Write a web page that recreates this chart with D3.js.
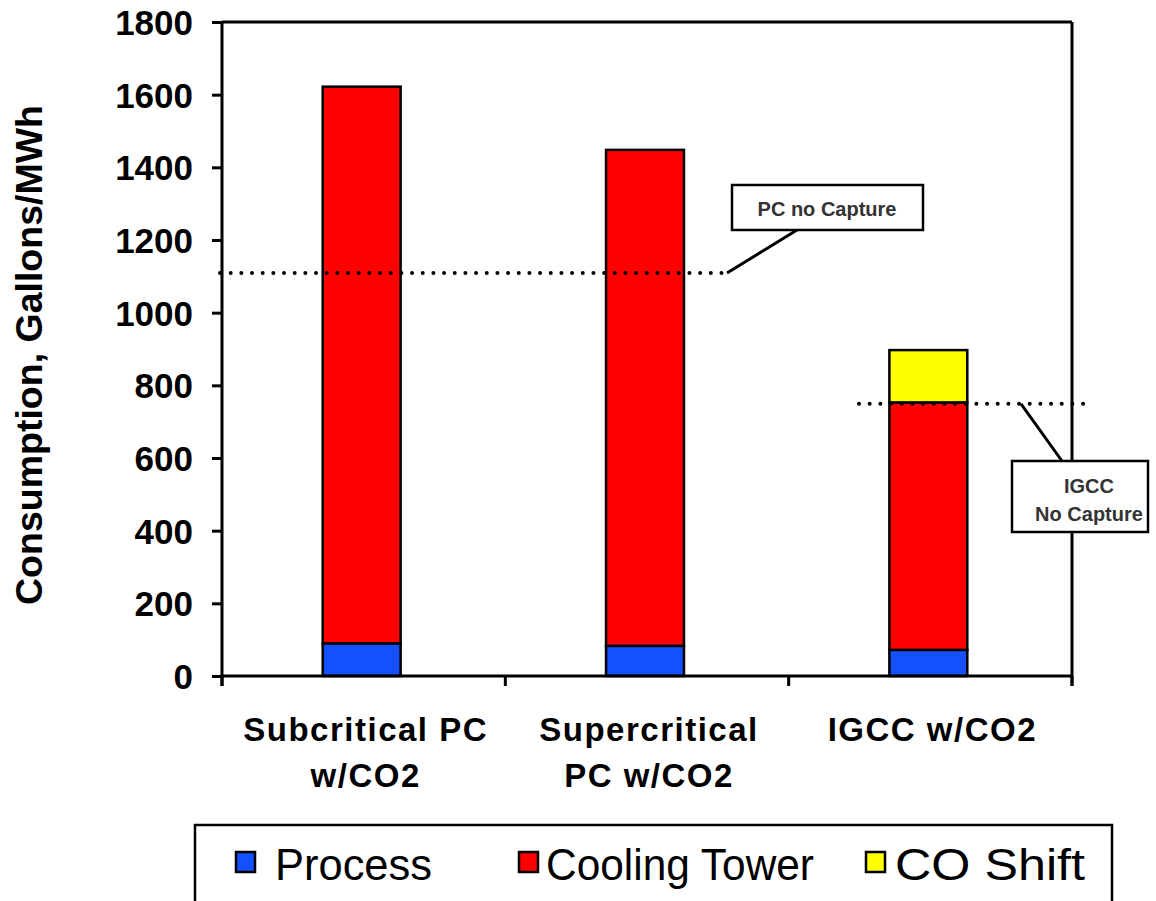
<!DOCTYPE html>
<html><head><meta charset="utf-8">
<script src="https://cdn.jsdelivr.net/npm/d3@7"></script>
<style>body{margin:0;background:#fff}svg{display:block}text{font-family:"Liberation Sans",Arial,sans-serif}</style>
</head><body><svg id="c" width="1156" height="901"></svg>
<script>
const categories = [["Subcritical PC","w/CO2"],["Supercritical","PC w/CO2"],["IGCC w/CO2"]];
const catKeys = ["sub","super","igcc"];
const seriesNames = ["Process","Cooling Tower","CO Shift"];
const seriesColors = ["#1450ff","#ff0000","#ffff00"];
const processVals = [90, 83, 72];
const coolingVals = [1532, 1365, 681];
const coShiftVals = [0, 0, 144];
const yTicks = [0,200,400,600,800,1000,1200,1400,1600,1800];
const pcNoCapture = 1109;
const igccNoCapture = 749;

const svg = d3.select("#c");
const L=222, R=1072, T=22, B=676;
const y = d3.scaleLinear().domain([0,1800]).range([B,T]);
const x = d3.scaleBand().domain(catKeys).range([L,R]).padding(0);
const barW = x.bandwidth()*0.275;

// plot frame (top & right)
svg.append("line").attr("x1",L).attr("x2",R).attr("y1",T).attr("y2",T).attr("stroke","#000").attr("stroke-width",3);
svg.append("line").attr("x1",R).attr("x2",R).attr("y1",T).attr("y2",B+10).attr("stroke","#000").attr("stroke-width",3);

// bars
const stackData = catKeys.map((k,i)=>({key:k, Process:processVals[i], "Cooling Tower":coolingVals[i], "CO Shift":coShiftVals[i]}));
const stack = d3.stack().keys(seriesNames)(stackData);
stack.forEach((s,si)=>{
  svg.append("g").selectAll("rect").data(s.filter(d=>d[1]-d[0]>0)).join("rect")
    .attr("x",d=>x(d.data.key)+x.bandwidth()/2-barW/2-2)
    .attr("width",barW)
    .attr("y",d=>y(d[1]))
    .attr("height",d=>y(d[0])-y(d[1]))
    .attr("fill",seriesColors[si]).attr("stroke","#000").attr("stroke-width",2.5);
});

// y axis
const ya = svg.append("g").attr("transform",`translate(${L},0)`)
  .call(d3.axisLeft(y).tickValues(yTicks).tickSize(10).tickPadding(19).tickFormat(d3.format("d")));
ya.select(".domain").attr("d",`M0,${T}V${B+10}`).attr("stroke-width",3);
ya.selectAll(".tick line").attr("stroke-width",3);
ya.selectAll(".tick text").attr("font-size",35).attr("font-weight","bold").attr("fill","#000").attr("dy","0.36em");

// x axis
svg.append("line").attr("x1",L).attr("x2",R).attr("y1",B).attr("y2",B).attr("stroke","#000").attr("stroke-width",3);
const bounds = catKeys.map(k=>x(k)).concat([x(catKeys[2])+x.bandwidth()]);
svg.append("g").selectAll("line").data(bounds).join("line")
  .attr("x1",d=>d).attr("x2",d=>d).attr("y1",B).attr("y2",B+10).attr("stroke","#000").attr("stroke-width",3);
catKeys.forEach((k,i)=>{
  const cx = x(k)+x.bandwidth()/2+2;
  const t = svg.append("text").attr("x",cx).attr("y",741)
    .attr("text-anchor","middle").attr("font-size",33).attr("font-weight","bold").attr("letter-spacing",1.5);
  categories[i].forEach((ln,j)=>t.append("tspan").attr("x",cx).attr("dy",j?46:0).text(ln));
});

// y title
svg.append("text").attr("transform","translate(42,355) rotate(-90)").attr("text-anchor","middle")
  .attr("font-size",36).attr("font-weight","bold").attr("textLength",500).attr("lengthAdjust","spacingAndGlyphs").text("Consumption, Gallons/MWh");

// reference lines
const dot = (x1,x2,yy)=>svg.append("line").attr("x1",x1).attr("x2",x2).attr("y1",y(yy)).attr("y2",y(yy))
  .attr("stroke","#000").attr("stroke-width",4).attr("stroke-linecap","round").attr("stroke-dasharray","0 10.67");
dot(220,726,pcNoCapture);
dot(859,1085,igccNoCapture);

// PC callout
svg.append("line").attr("x1",727).attr("y1",y(pcNoCapture)).attr("x2",797).attr("y2",230).attr("stroke","#000").attr("stroke-width",3);
svg.append("rect").attr("x",732).attr("y",185).attr("width",191).attr("height",45).attr("fill","#fff").attr("stroke","#000").attr("stroke-width",2.5);
svg.append("text").attr("x",827).attr("y",216).attr("text-anchor","middle").attr("font-size",20).attr("font-weight","bold").attr("fill","#333").text("PC no Capture");

// IGCC callout
svg.append("line").attr("x1",1021).attr("y1",y(igccNoCapture)).attr("x2",1062).attr("y2",461).attr("stroke","#000").attr("stroke-width",3);
svg.append("rect").attr("x",1012).attr("y",461).attr("width",136).attr("height",71).attr("fill","#fff").attr("stroke","#000").attr("stroke-width",2.5);
svg.append("text").attr("x",1089).attr("y",493).attr("text-anchor","middle").attr("font-size",20).attr("font-weight","bold").attr("fill","#333").text("IGCC");
svg.append("text").attr("x",1089).attr("y",521).attr("text-anchor","middle").attr("font-size",20).attr("font-weight","bold").attr("fill","#333").text("No Capture");

// legend
svg.append("rect").attr("x",195).attr("y",825).attr("width",917).attr("height",90).attr("fill","#fff").attr("stroke","#000").attr("stroke-width",2.5);
const legSq = [236, 519, 866];
const legTx = [275, 546, 895];
const legTextW = [157, 268, 190];
seriesNames.forEach((n,i)=>{
  svg.append("rect").attr("x",legSq[i]).attr("y",852).attr("width",19).attr("height",20).attr("fill",seriesColors[i]).attr("stroke","#000").attr("stroke-width",2.5);
  svg.append("text").attr("x",legTx[i]).attr("y",880).attr("font-size",45)
    .attr("textLength",legTextW[i]).attr("lengthAdjust","spacingAndGlyphs").text(n);
});
</script></body></html>
